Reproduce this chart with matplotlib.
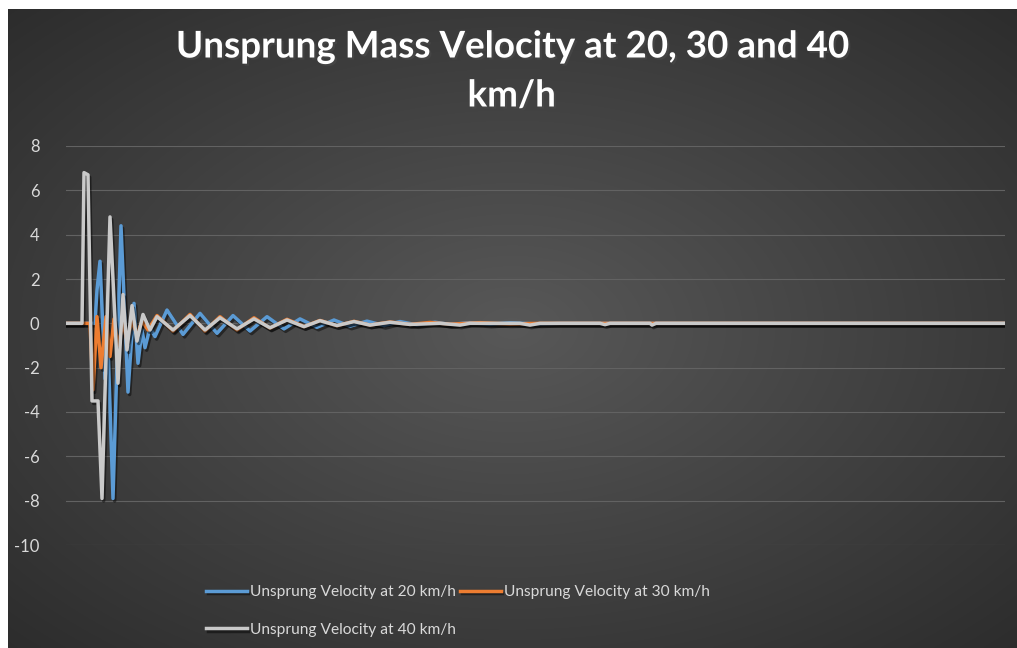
import numpy as np
import matplotlib.pyplot as plt
import matplotlib.patheffects as pe

plt.rcParams["axes.unicode_minus"] = False

# Data (x = sample index)
t_20 = [0, 14.5, 15.5, 17, 19.5, 21, 23.5, 27.5, 31, 34, 36, 38, 39.5, 42, 44.5, 50.5, 58.5, 67, 75.5, 83.5,
        92, 100.5, 109, 117, 125.5, 134, 142, 150.5, 159, 167, 175.5, 184.5, 192, 202, 212, 222, 237, 247, 469.5]
v_20 = [0, 0, 1.5, 2.8, -2.5, -1.0, -7.9, 4.4, -3.1, 0.9, -1.8, -0.3, -1.1, -0.2, -0.6, 0.6, -0.5, 0.45, -0.45, 0.35,
        -0.35, 0.3, -0.25, 0.2, -0.18, 0.15, -0.13, 0.1, -0.1, 0.08, -0.07, 0.05, -0.05, 0.03, -0.04, 0.02, -0.03, 0, 0]

t_30 = [0, 12, 13.5, 15.5, 17.5, 20, 22, 24, 26, 28.5, 30.5, 33, 35.5, 38, 41, 45.5, 53.5, 62, 69.5, 77,
        85.5, 94, 102, 110.5, 119, 127, 135.5, 144, 152, 162, 172, 182, 192, 207, 222, 237, 469.5]
v_30 = [0, 0, -3.0, 0.3, -2.0, 0.3, -1.5, 0.2, -1.0, 0.0, -0.8, 0.1, -0.5, 0.1, -0.3, 0.35, -0.35, 0.4, -0.35, 0.3,
        -0.3, 0.25, -0.22, 0.18, -0.15, 0.13, -0.11, 0.09, -0.08, 0.06, -0.05, 0.04, -0.04, 0.03, -0.03, 0, 0]

t_40 = [0, 8, 9, 11, 13, 16, 18, 22, 26, 28.5, 30.5, 33, 35.5, 38.5, 42, 45.5, 53.5, 62, 69.5, 77,
        85.5, 94, 102, 110.5, 119, 127, 135.5, 144, 152, 162, 172, 187, 197, 202, 227, 232, 237, 267, 269.5, 272,
        292, 293, 295, 469.5]
v_40 = [0, 0, 6.8, 6.7, -3.5, -3.5, -7.9, 4.8, -2.7, 1.3, -1.2, 0.8, -0.8, 0.4, -0.3, 0.3, -0.3, 0.35, -0.3, 0.25,
        -0.25, 0.2, -0.2, 0.15, -0.15, 0.12, -0.1, 0.08, -0.08, 0.05, -0.05, 0.0, -0.08, 0, 0, -0.08, 0, 0, -0.06, 0,
        0, -0.08, 0, 0]

labels = ["Unsprung Velocity at 20 km/h", "Unsprung Velocity at 30 km/h", "Unsprung Velocity at 40 km/h"]
colors = ["#5B9BD5", "#ED7D31", "#C9C9C9"]
y_ticks = [-10, -8, -6, -4, -2, 0, 2, 4, 6, 8]

W, H = 1017, 648
fig = plt.figure(figsize=(W / 100, H / 100), dpi=100, facecolor="white")

# dark radial gradient background (chart area starts a few px in from the top/left)
bg = fig.add_axes([8 / W, 0, 1 - 8 / W, 1 - 9 / H])
yy, xx = np.mgrid[0:1:300j, 0:1:500j]
r = np.sqrt(((xx - 0.5) / 0.75) ** 2 + ((yy - 0.5) / 0.75) ** 2)
r = np.clip(r, 0, 1)
c0, c1 = np.array([0x58, 0x58, 0x58]) / 255, np.array([0x2a, 0x2a, 0x2a]) / 255
img = c0[None, None, :] * (1 - r[..., None]) + c1[None, None, :] * r[..., None]
bg.imshow(img, aspect="auto", extent=[0, 1, 0, 1], interpolation="bilinear")
bg.axis("off")

ax = fig.add_axes([66 / W, (H - 545) / H, 939 / W, 399 / H])
ax.set_facecolor("none")
ax.set_xlim(0, 469.5)
ax.set_ylim(-10, 8)
ax.set_yticks(y_ticks)
ax.set_xticks([])
ax.tick_params(axis="y", length=0, labelsize=12, labelcolor="#D9D9D9", pad=19)
for s in ax.spines.values():
    s.set_visible(False)
ax.grid(axis="y", color="#626262", linewidth=0.8)
ax.set_axisbelow(True)

shadow = [pe.SimpleLineShadow(offset=(1.2, -1.8), shadow_color="black", alpha=0.45), pe.Normal()]
lines = []
for t, v, c, lab in zip([t_20, t_30, t_40], [v_20, v_30, v_40], colors, labels):
    ln, = ax.plot(t, v, color=c, linewidth=2.5, label=lab, solid_joinstyle="round", path_effects=shadow)
    lines.append(ln)

for lbl in ax.get_yticklabels():
    lbl.set_fontfamily("Lato")

title_fx = [pe.withSimplePatchShadow(offset=(1.5, -1.5), alpha=0.5)]
fig.text(0.503, 1 - 47 / H, "Unsprung Mass Velocity at 20, 30 and 40", ha="center", va="center",
         fontsize=26.5, fontweight="bold", color="white", family="Lato", path_effects=title_fx)
fig.text(0.503, 1 - 96 / H, "km/h", ha="center", va="center",
         fontsize=26.5, fontweight="bold", color="white", family="Lato", path_effects=title_fx)

# column-major fill: 20 and 40 in the first column, 30 in the second
order = [0, 2, 1]
leg = fig.legend([lines[i] for i in order], [labels[i] for i in order],
                 loc="center", bbox_to_anchor=(458 / W, 1 - 611 / H), ncol=2, frameon=False,
                 handlelength=2.6, handletextpad=0.2, columnspacing=0.3, labelspacing=1.5,
                 prop={"family": "Lato", "size": 11.2})
for txt in leg.get_texts():
    txt.set_color("#D9D9D9")

fig.savefig("out.png", dpi=100, facecolor="white")
